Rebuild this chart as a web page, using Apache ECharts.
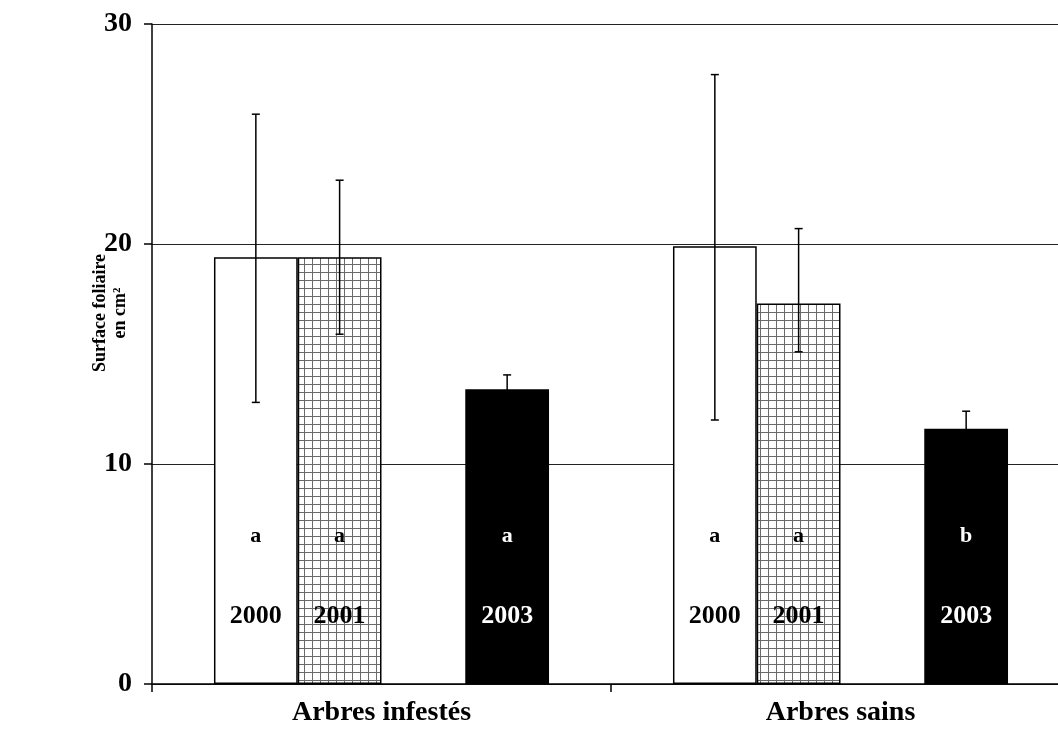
<!DOCTYPE html>
<html>
<head>
<meta charset="utf-8">
<script src="https://cdn.jsdelivr.net/npm/echarts@6/dist/echarts.min.js"></script>
<style>html,body{margin:0;padding:0;background:#fff;overflow:hidden;width:1058px;height:733px;}#main{width:1070px;height:733px;}</style>
</head>
<body>
<div id="main"></div>
<script>
// ---- data ----
var categories = ['Arbres infestés', 'Arbres sains'];
var years = ['2000', '2001', '2002', '2003'];
var values2000 = [19.4, 19.9];
var values2001 = [19.4, 17.3];
var values2002 = [null, null];
var values2003 = [13.4, 11.6];
var errLow2000 = [12.8, 12.0];
var errHigh2000 = [25.9, 27.7];
var errLow2001 = [15.9, 15.1];
var errHigh2001 = [22.9, 20.7];
var errLow2003 = [12.75, 10.8];
var errHigh2003 = [14.05, 12.4];
var letters2000 = ['a', 'a'];
var letters2001 = ['a', 'a'];
var letters2003 = ['a', 'b'];
var yTicks = [0, 10, 20, 30];
var yTitle = 'Surface foliaire\nen cm²';

// ---- rendering ----
var FONT = '"Liberation Serif", "Times New Roman", serif';
var CAT_GAP = 0.27;
var NSLOT = years.length;

function makeHatch() {
  var c = document.createElement('canvas');
  c.width = 8; c.height = 8;
  var g = c.getContext('2d');
  g.fillStyle = '#ffffff';
  g.fillRect(0, 0, 8, 8);
  g.fillStyle = '#6a6a6a';
  g.fillRect(0, 0, 8, 1);
  g.fillRect(0, 0, 1, 8);
  return c;
}
var hatch = makeHatch();

function annotSeries(slot, values, lows, highs, letters, year, textColor) {
  var data = values.map(function (v, i) { return [i, v, lows[i], highs[i]]; });
  return {
    type: 'custom',
    z: 10,
    silent: true,
    data: data,
    renderItem: function (params, api) {
      var i = api.value(0);
      var catW = api.size([1, 0])[0];
      var barW = catW * (1 - CAT_GAP) / NSLOT;
      var cx = api.coord([i, 0])[0] + (slot - (NSLOT - 1) / 2) * barW;
      var yLow = api.coord([i, api.value(2)])[1];
      var yHigh = api.coord([i, api.value(3)])[1];
      var yLetter = api.coord([i, 6.7])[1];
      var yYear = api.coord([i, 3.1])[1];
      var cap = 4;
      var ls = { stroke: '#000', lineWidth: 1.5 };
      return {
        type: 'group',
        children: [
          { type: 'line', shape: { x1: cx, y1: yLow, x2: cx, y2: yHigh }, style: ls },
          { type: 'line', shape: { x1: cx - cap, y1: yHigh, x2: cx + cap, y2: yHigh }, style: ls },
          { type: 'line', shape: { x1: cx - cap, y1: yLow, x2: cx + cap, y2: yLow }, style: ls },
          { type: 'text', style: { x: cx, y: yLetter, text: letters[params.dataIndex], fill: textColor,
              font: 'bold 22px ' + FONT, textAlign: 'center', textVerticalAlign: 'middle' } },
          { type: 'text', style: { x: cx, y: yYear, text: year, fill: textColor,
              font: 'bold 26px ' + FONT, textAlign: 'center', textVerticalAlign: 'middle' } }
        ]
      };
    }
  };
}

var chart = echarts.init(document.getElementById('main'), null, { renderer: 'canvas' });
chart.setOption({
  animation: false,
  backgroundColor: '#ffffff',
  grid: { left: 152, top: 24, bottom: 49, right: 0 },
  graphic: [{
    type: 'text',
    x: 110, y: 313,
    rotation: Math.PI / 2,
    style: { text: yTitle, fill: '#000', font: 'bold 18px ' + FONT, textAlign: 'center',
      textVerticalAlign: 'middle', lineHeight: 20 }
  }],
  xAxis: {
    type: 'category',
    data: categories,
    boundaryGap: true,
    axisLine: { lineStyle: { color: '#000', width: 1.5 } },
    axisTick: { show: true, length: 8, inside: false, lineStyle: { color: '#000', width: 1.5 } },
    axisLabel: { color: '#000', fontFamily: FONT, fontWeight: 'bold', fontSize: 28, margin: 15 }
  },
  yAxis: {
    type: 'value',
    min: 0, max: 30, interval: 10,
    axisLine: { show: true, lineStyle: { color: '#000', width: 1.5 } },
    axisTick: { show: true, length: 8, lineStyle: { color: '#000', width: 1.5 } },
    axisLabel: {
      color: '#000', fontFamily: FONT, fontWeight: 'bold', fontSize: 28, margin: 20,
      formatter: function (v) { return yTicks.indexOf(v) >= 0 ? String(v) : ''; }
    },
    splitLine: { show: true, lineStyle: { color: '#222', width: 1.2 } }
  },
  series: [
    { name: years[0], type: 'bar', data: values2000, barGap: 0, barCategoryGap: (CAT_GAP * 100) + '%',
      itemStyle: { color: '#ffffff', borderColor: '#000', borderWidth: 1.5 } },
    { name: years[1], type: 'bar', data: values2001, barGap: 0, barCategoryGap: (CAT_GAP * 100) + '%',
      itemStyle: { color: { image: hatch, repeat: 'repeat' }, borderColor: '#000', borderWidth: 1.5 } },
    { name: years[2], type: 'bar', data: values2002, barGap: 0, barCategoryGap: (CAT_GAP * 100) + '%' },
    { name: years[3], type: 'bar', data: values2003, barGap: 0, barCategoryGap: (CAT_GAP * 100) + '%',
      itemStyle: { color: '#000000', borderColor: '#000', borderWidth: 1.5 } },
    annotSeries(0, values2000, errLow2000, errHigh2000, letters2000, years[0], '#000'),
    annotSeries(1, values2001, errLow2001, errHigh2001, letters2001, years[1], '#000'),
    annotSeries(3, values2003, errLow2003, errHigh2003, letters2003, years[3], '#fff')
  ]
});
</script>
</body>
</html>
